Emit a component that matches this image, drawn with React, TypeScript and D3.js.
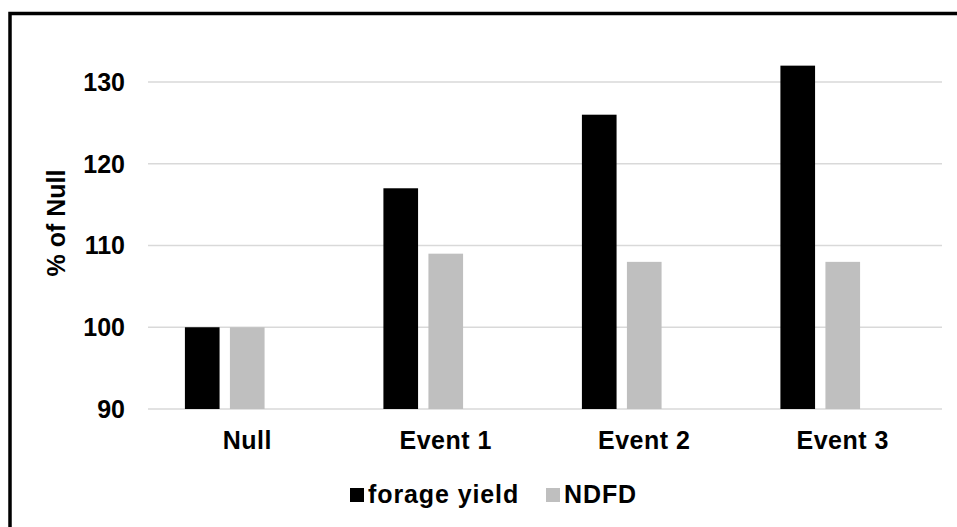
import React from "react";
import * as d3 from "d3";

const categories = ["Null", "Event 1", "Event 2", "Event 3"];
const seriesNames = ["forage yield", "NDFD"];
const forageYield = [100, 117, 126, 132];
const ndfd = [100, 109, 108, 108];
const yTicks = [90, 100, 110, 120, 130];
const seriesColors = ["#000000", "#bfbfbf"];

const W = 957;
const H = 527;
const FONT = "'Liberation Sans', Arial, sans-serif";

export default function App() {
  const x0 = d3.scaleBand<string>().domain(categories).range([148, 942]).padding(0);
  // third slot is an empty series (as in the source spreadsheet), keeps bars offset left
  const x1 = d3
    .scaleBand<string>()
    .domain([...seriesNames, "_empty"])
    .range([0, x0.bandwidth()])
    .paddingInner(0.23)
    .paddingOuter(0.82);
  const y = d3.scaleLinear().domain([90, 130]).range([409, 82]);
  const values = [forageYield, ndfd];

  return (
    <svg
      width={W}
      height={H}
      style={{ position: "absolute", left: 0, top: 0, background: "#fff" }}
      fontFamily={FONT}
    >
      <rect x={0} y={0} width={W} height={H} fill="#fff" />
      {/* outer frame (extends past the right and bottom edges) */}
      <rect x={10} y={13.5} width={W + 20} height={H + 20} fill="none" stroke="#000" strokeWidth={3.5} />
      {/* gridlines */}
      {yTicks.map((t) => (
        <line key={t} x1={148} x2={942} y1={y(t)} y2={y(t)} stroke="#d9d9d9" strokeWidth={1.5} />
      ))}
      {/* y tick labels */}
      {yTicks.map((t) => (
        <text
          key={"l" + t}
          x={125}
          y={y(t)}
          dy="0.35em"
          textAnchor="end"
          fontSize={25}
          fontWeight="bold"
          fill="#000"
        >
          {t}
        </text>
      ))}
      {/* bars */}
      {categories.map((c, ci) =>
        seriesNames.map((s, si) => {
          const v = values[si][ci];
          const bx = (x0(c) as number) + (x1(s) as number);
          return (
            <rect
              key={c + s}
              x={bx}
              y={y(v)}
              width={x1.bandwidth()}
              height={y(90) - y(v)}
              fill={seriesColors[si]}
            />
          );
        })
      )}
      {/* x labels */}
      {categories.map((c) => (
        <text
          key={"x" + c}
          x={(x0(c) as number) + x0.bandwidth() / 2}
          y={449}
          textAnchor="middle"
          fontSize={25}
          fontWeight="bold"
          letterSpacing={0.5}
          fill="#000"
        >
          {c}
        </text>
      ))}
      {/* y axis title */}
      <text
        transform={`translate(65,223) rotate(-90)`}
        textAnchor="middle"
        fontSize={25}
        fontWeight="bold"
        fill="#000"
      >
        % of Null
      </text>
      {/* legend */}
      {seriesNames.map((s, i) => {
        const lx = [350, 546][i];
        return (
          <g key={"lg" + s}>
            <rect x={lx} y={488} width={14} height={14} fill={seriesColors[i]} />
            <text x={lx + 18} y={503} fontSize={25} fontWeight="bold" letterSpacing={0.9} fill="#000">
              {s}
            </text>
          </g>
        );
      })}
    </svg>
  );
}
